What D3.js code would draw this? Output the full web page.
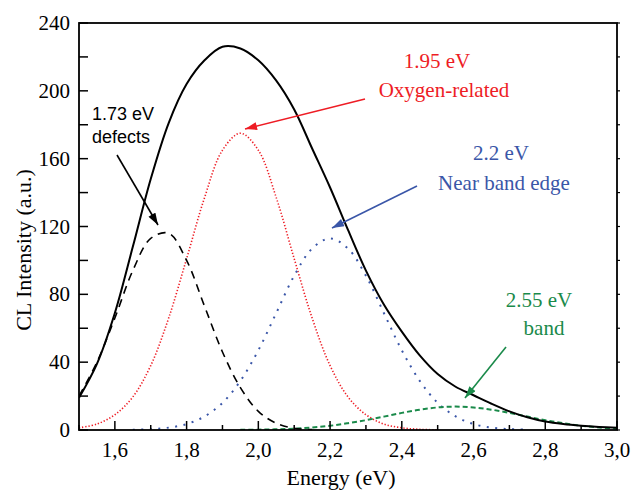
<!DOCTYPE html>
<html>
<head>
<meta charset="utf-8">
<script src="https://cdn.jsdelivr.net/npm/d3@7"></script>
<style>
  body { margin: 0; background: #fff; }
  svg { display: block; }
</style>
</head>
<body>
<div id="chart"></div>
<script>
// energy grid (eV) and curves
const energy = [1.50, 1.55, 1.60, 1.65, 1.70, 1.75, 1.80, 1.85, 1.90, 1.95,
                2.00, 2.05, 2.10, 2.15, 2.20, 2.25, 2.30, 2.35, 2.40, 2.45,
                2.50, 2.55, 2.60, 2.65, 2.70, 2.75, 2.80, 2.85, 2.90, 2.95, 3.00];
const totalCL = [19, 39, 69, 108, 148, 181, 204, 218, 226, 225,
                 218, 206, 189, 166, 143, 118, 94, 74, 58, 44,
                 33, 25.5, 20.5, 15.5, 11, 7.5, 5, 3.5, 2.5, 1.8, 1.3];
const defects173 = [20, 40, 66, 94, 113, 116, 100, 73, 46, 25,
                    11, 4, 1, 0.2, null, null, null, null, null, null,
                    null, null, null, null, null, null, null, null, null, null, null];
const oxygen195 = [1.3, 3.5, 9, 19.5, 38, 66, 101, 137, 165, 175,
                   165, 137, 101, 66, 38, 19.5, 9, 3.5, 1.3, 0.4,
                   0.1, null, null, null, null, null, null, null, null, null, null];
const nbe22 = [null, null, null, 0.2, 0.5, 1.4, 3.5, 8, 16, 29,
               47, 69, 91, 107, 113, 107, 91, 69, 47, 29,
               16, 8, 3.5, 1.4, 0.5, 0.2, null, null, null, null, null];
const band255 = [null, null, null, null, null, null, null, null, null, 0.1,
                 0.2, 0.4, 0.8, 1.5, 2.5, 4.0, 5.8, 7.9, 10.1, 12.0,
                 13.3, 13.8, 13.3, 12.0, 10.1, 7.9, 5.8, 4.0, 2.5, 1.5, 0.8];

const xTicks = [1.6, 1.8, 2.0, 2.2, 2.4, 2.6, 2.8, 3.0];
const xMinor = [1.5, 1.6, 1.7, 1.8, 1.9, 2.0, 2.1, 2.2, 2.3, 2.4, 2.5, 2.6, 2.7, 2.8, 2.9, 3.0];
const yTicks = [0, 40, 80, 120, 160, 200, 240];
const yMinor = [0, 20, 40, 60, 80, 100, 120, 140, 160, 180, 200, 220, 240];

const serif = "'Liberation Serif', 'Times New Roman', serif";
const sans = "'Liberation Sans', Arial, sans-serif";

var width = 631, height = 490;
var plot = {left: 79, right: 617, top: 23, bottom: 430};

var svg = d3.select("#chart")
  .append("svg")
  .attr("width", width)
  .attr("height", height);

var x = d3.scaleLinear().domain([1.5, 3.0]).range([plot.left, plot.right]);
var y = d3.scaleLinear().domain([0, 240]).range([plot.bottom, plot.top]);

// arrow heads
var defs = svg.append("defs");
function marker(id, color) {
  defs.append("marker")
    .attr("id", id)
    .attr("viewBox", "0 0 12 8")
    .attr("refX", 12).attr("refY", 4)
    .attr("markerWidth", 13).attr("markerHeight", 8)
    .attr("markerUnits", "userSpaceOnUse")
    .attr("orient", "auto")
    .append("path")
    .attr("d", "M0,0 L12,4 L0,8 Z")
    .attr("fill", color);
}
marker("arBlack", "#000");
marker("arRed", "#ee1c24");
marker("arBlue", "#3a56a8");
marker("arGreen", "#1a8a4a");

// clip to plot box
defs.append("clipPath").attr("id", "plotClip")
  .append("rect")
  .attr("x", plot.left).attr("y", plot.top)
  .attr("width", plot.right - plot.left).attr("height", plot.bottom - plot.top);

function drawCurve(vals, color, w, dash) {
  var line = d3.line()
    .defined(function(d) { return d[1] !== null; })
    .x(function(d) { return x(d[0]); })
    .y(function(d) { return y(d[1]); })
    .curve(d3.curveCatmullRom.alpha(0.5));
  svg.append("path")
    .datum(energy.map(function(e, i) { return [e, vals[i]]; }))
    .attr("clip-path", "url(#plotClip)")
    .attr("fill", "none")
    .attr("stroke", color)
    .attr("stroke-width", w)
    .attr("stroke-dasharray", dash)
    .attr("d", line);
}

drawCurve(oxygen195, "#ee1c24", 1.6, "1.3 1.9");
drawCurve(nbe22, "#3a56a8", 2, "2 6.5");
drawCurve(band255, "#1a8a4a", 2, "5 3");
drawCurve(defects173, "#000", 1.6, "8 6");
drawCurve(totalCL, "#000", 2, null);

// frame
svg.append("rect")
  .attr("x", plot.left).attr("y", plot.top)
  .attr("width", plot.right - plot.left).attr("height", plot.bottom - plot.top)
  .attr("fill", "none")
  .attr("stroke", "#000")
  .attr("stroke-width", 1.8);

// x ticks (inward)
svg.selectAll("xtick")
  .data(xMinor)
  .enter()
  .append("line")
  .attr("x1", function(d) { return x(d); })
  .attr("x2", function(d) { return x(d); })
  .attr("y1", plot.bottom)
  .attr("y2", function(d) { return xTicks.some(function(t) { return Math.abs(t - d) < 1e-6; }) ? plot.bottom - 9 : plot.bottom - 5; })
  .attr("stroke", "#000")
  .attr("stroke-width", 1.5);

svg.selectAll("xlab")
  .data(xTicks)
  .enter()
  .append("text")
  .attr("x", function(d) { return x(d); })
  .attr("y", 457)
  .attr("text-anchor", "middle")
  .style("font-family", serif)
  .style("font-size", "21px")
  .text(function(d) { return d.toFixed(1).replace(".", ","); });

// y ticks (inward left, small outward right)
svg.selectAll("ytick")
  .data(yMinor)
  .enter()
  .append("line")
  .attr("x1", plot.left)
  .attr("x2", plot.left + 9)
  .attr("y1", function(d) { return y(d); })
  .attr("y2", function(d) { return y(d); })
  .attr("stroke", "#000")
  .attr("stroke-width", 1.5);

svg.selectAll("ytickR")
  .data(yMinor)
  .enter()
  .append("line")
  .attr("x1", plot.right)
  .attr("x2", plot.right + 3)
  .attr("y1", function(d) { return y(d); })
  .attr("y2", function(d) { return y(d); })
  .attr("stroke", "#000")
  .attr("stroke-width", 1.2);

svg.selectAll("ylab")
  .data(yTicks)
  .enter()
  .append("text")
  .attr("x", 70)
  .attr("y", function(d) { return y(d) + 7; })
  .attr("text-anchor", "end")
  .style("font-family", serif)
  .style("font-size", "21px")
  .text(function(d) { return d; });

// axis titles
svg.append("text")
  .attr("x", 341)
  .attr("y", 485)
  .attr("text-anchor", "middle")
  .style("font-family", serif)
  .style("font-size", "22px")
  .text("Energy (eV)");

svg.append("text")
  .attr("transform", "translate(31,250) rotate(-90)")
  .attr("text-anchor", "middle")
  .style("font-family", serif)
  .style("font-size", "22px")
  .text("CL Intensity (a.u.)");

// annotations
function label(lines, color, font, size, anchor) {
  lines.forEach(function(l) {
    svg.append("text")
      .attr("x", l[1]).attr("y", l[2])
      .attr("text-anchor", anchor)
      .attr("fill", color)
      .style("font-family", font)
      .style("font-size", size)
      .text(l[0]);
  });
}
function arrow(x1, y1, x2, y2, color, id) {
  svg.append("line")
    .attr("x1", x1).attr("y1", y1)
    .attr("x2", x2).attr("y2", y2)
    .attr("stroke", color)
    .attr("stroke-width", 1.6)
    .attr("marker-end", "url(#" + id + ")");
}

label([["1.73 eV", 92, 120], ["defects", 92, 143]], "#000", sans, "18px", "start");
arrow(117, 155, 158, 225, "#000", "arBlack");

label([["1.95 eV", 437, 68], ["Oxygen-related", 444, 97]], "#ee1c24", serif, "21px", "middle");
arrow(365, 99, 245, 129, "#ee1c24", "arRed");

label([["2.2 eV", 501, 160], ["Near band edge", 504, 190]], "#3a56a8", serif, "21px", "middle");
arrow(417, 186, 332, 228, "#3a56a8", "arBlue");

label([["2.55 eV", 539, 307], ["band", 544, 335]], "#1a8a4a", serif, "21px", "middle");
arrow(506, 347, 465, 398, "#1a8a4a", "arGreen");
</script>
</body>
</html>
